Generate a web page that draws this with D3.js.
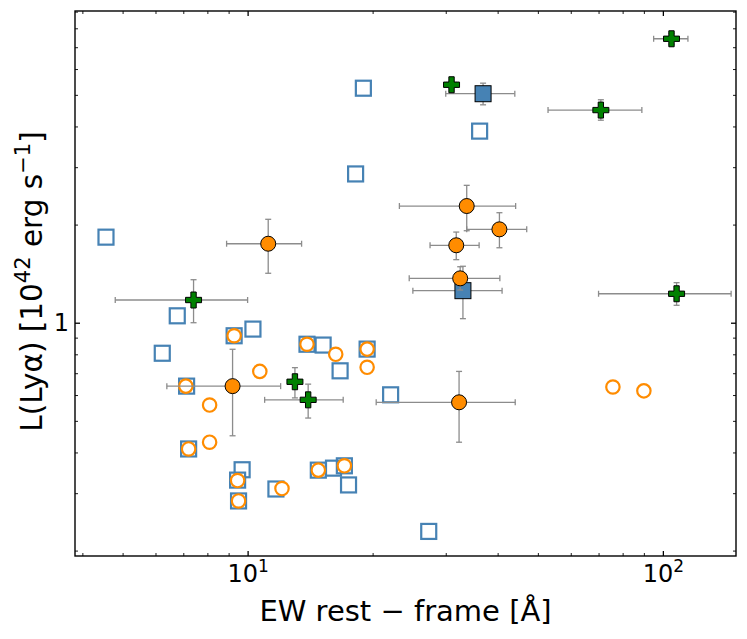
<!DOCTYPE html>
<html><head><meta charset="utf-8">
<script src="https://cdn.jsdelivr.net/npm/d3@7"></script>
<style>
body{margin:0;background:#fff}
svg{display:block}
text{font-family:"DejaVu Sans",sans-serif;fill:#000}
</style>
</head><body>
<svg id="c" width="747" height="639"></svg>
<script>
// ---- tick values ----
const xMajorTicks = [10, 100];
const xMinorTicks = [4, 5, 6, 7, 8, 9, 20, 30, 40, 50, 60, 70, 80, 90];
const yMajorTicks = [1];
const yMinorTicks = [0.2, 0.3, 0.4, 0.5, 0.6, 0.7, 0.8, 0.9, 2, 3, 4, 5, 6, 7, 8, 9];
const xTickLabels = [["10", "1"], ["10", "2"]];
const yTickLabels = ["1"];

// ---- open squares ----
const openSqEW = [4.56, 19.0, 18.2, 36.2, 6.77, 6.23, 9.28, 10.3, 7.13, 13.9, 15.2, 16.7, 19.4, 22.1, 7.21, 9.70, 9.46, 9.51, 11.7, 14.8, 16.1, 17.1, 17.5, 27.3];
const openSqL  = [1.83, 5.24, 2.86, 3.87, 1.05, 0.806, 0.912, 0.956, 0.639, 0.859, 0.854, 0.712, 0.830, 0.601, 0.410, 0.354, 0.329, 0.284, 0.309, 0.353, 0.358, 0.364, 0.318, 0.229];

// ---- open circles ----
const openCiEW = [9.28, 10.7, 7.10, 8.10, 8.10, 7.21, 13.9, 16.3, 19.4, 19.4, 9.46, 9.51, 12.1, 14.8, 17.1, 75.8, 90.0];
const openCiL  = [0.912, 0.709, 0.639, 0.559, 0.430, 0.410, 0.859, 0.800, 0.830, 0.730, 0.328, 0.284, 0.310, 0.353, 0.364, 0.635, 0.618];

// ---- filled squares (with errors) ----
const fillSqEW   = [36.9, 33.0];
const fillSqEWlo = [30.0, 25.0];
const fillSqEWhi = [44.0, 41.0];
const fillSqL    = [5.04, 1.254];
const fillSqLlo  = [4.66, 1.029];
const fillSqLhi  = [5.43, 1.49];

// ---- filled circles (with errors) ----
const fillCiEW   = [11.21, 9.20, 33.7, 40.4, 31.8, 32.5, 32.3];
const fillCiEWlo = [8.90, 6.39, 23.2, 33.7, 27.5, 24.5, 20.4];
const fillCiEWhi = [13.49, 12.01, 44.2, 47.0, 36.1, 40.5, 44.1];
const fillCiL    = [1.747, 0.639, 2.280, 1.934, 1.728, 1.368, 0.570];
const fillCiLlo  = [1.418, 0.450, 1.915, 1.698, 1.561, 1.26, 0.430];
const fillCiLhi  = [2.076, 0.829, 2.639, 2.175, 1.897, 1.485, 0.709];

// ---- green pluses (with errors) ----
const plusEW   = [104.9, 30.98, 70.9, 107.9, 7.41, 13.0, 13.99];
const plusEWlo = [95.0, 30.2, 52.9, 70.0, 4.80, 12.7, 10.99];
const plusEWhi = [114.9, 31.8, 89.0, 146.0, 10.0, 13.3, 16.99];
const plusL    = [7.43, 5.37, 4.49, 1.227, 1.174, 0.659, 0.580];
const plusLlo  = [7.15, 5.25, 4.18, 1.131, 1.0, 0.588, 0.510];
const plusLhi  = [7.72, 5.5, 4.83, 1.327, 1.355, 0.728, 0.648];

// ---- layout ----
const L = 75, R = 736, T = 11, B = 556;
const svg = d3.select("#c");
const x = d3.scaleLog().domain([3.84, 150]).range([L, R]);
const y = d3.scaleLog().domain([0.1925, 9.04]).range([B, T]);

const plot = svg.append("g");
const ERR = "#8c8c8c", CAP = 3;

function errorbars(ew, ewlo, ewhi, lv, llo, lhi) {
  const g = plot.append("g").attr("stroke", ERR).attr("stroke-width", 1.3).attr("fill", "none");
  ew.forEach((v, i) => {
    const cx = x(v), cy = y(lv[i]);
    const x0 = x(ewlo[i]), x1 = x(ewhi[i]);
    const y0 = y(llo[i]), y1 = y(lhi[i]);
    g.append("line").attr("x1", x0).attr("x2", x1).attr("y1", cy).attr("y2", cy);
    g.append("line").attr("x1", x0).attr("x2", x0).attr("y1", cy - CAP).attr("y2", cy + CAP);
    g.append("line").attr("x1", x1).attr("x2", x1).attr("y1", cy - CAP).attr("y2", cy + CAP);
    g.append("line").attr("x1", cx).attr("x2", cx).attr("y1", y0).attr("y2", y1);
    g.append("line").attr("x1", cx - CAP).attr("x2", cx + CAP).attr("y1", y0).attr("y2", y0);
    g.append("line").attr("x1", cx - CAP).attr("x2", cx + CAP).attr("y1", y1).attr("y2", y1);
  });
}

// open squares
plot.append("g").selectAll("rect").data(openSqEW).join("rect")
  .attr("x", (d, i) => x(d) - 7.5).attr("y", (d, i) => y(openSqL[i]) - 7.5)
  .attr("width", 15).attr("height", 15)
  .attr("fill", "none").attr("stroke", "#4682b4").attr("stroke-width", 2.2);

// open circles
plot.append("g").selectAll("circle").data(openCiEW).join("circle")
  .attr("cx", d => x(d)).attr("cy", (d, i) => y(openCiL[i])).attr("r", 6.7)
  .attr("fill", "#fff").attr("stroke", "#ff8c00").attr("stroke-width", 2.2);

// filled squares
errorbars(fillSqEW, fillSqEWlo, fillSqEWhi, fillSqL, fillSqLlo, fillSqLhi);
plot.append("g").selectAll("rect").data(fillSqEW).join("rect")
  .attr("x", d => x(d) - 8).attr("y", (d, i) => y(fillSqL[i]) - 8)
  .attr("width", 16).attr("height", 16)
  .attr("fill", "#4682b4").attr("stroke", "#000").attr("stroke-width", 1);

// filled circles
errorbars(fillCiEW, fillCiEWlo, fillCiEWhi, fillCiL, fillCiLlo, fillCiLhi);
plot.append("g").selectAll("circle").data(fillCiEW).join("circle")
  .attr("cx", d => x(d)).attr("cy", (d, i) => y(fillCiL[i])).attr("r", 7.5)
  .attr("fill", "#ff8c00").attr("stroke", "#000").attr("stroke-width", 1);

// pluses
errorbars(plusEW, plusEWlo, plusEWhi, plusL, plusLlo, plusLhi);
const s = 8 / 3;
const plusPath = `M${-s},${-3*s}H${s}V${-s}H${3*s}V${s}H${s}V${3*s}H${-s}V${s}H${-3*s}V${-s}H${-s}Z`;
plot.append("g").selectAll("path").data(plusEW).join("path")
  .attr("transform", (d, i) => `translate(${x(d)},${y(plusL[i])})`)
  .attr("d", plusPath)
  .attr("fill", "#008000").attr("stroke", "#000").attr("stroke-width", 1);

// ---- axes (ticks inward on all four sides) ----
function styleAxis(g, w) {
  g.select(".domain").remove();
  g.selectAll(".tick line").attr("stroke", "#000").attr("stroke-width", w);
}
const MAJ = 5, MIN = 3;
svg.append("g").attr("transform", `translate(0,${B})`)
  .call(d3.axisBottom(x).tickValues(xMinorTicks).tickSize(-MIN).tickFormat(""))
  .call(g => styleAxis(g, 0.9));
svg.append("g").attr("transform", `translate(0,${T})`)
  .call(d3.axisTop(x).tickValues(xMinorTicks).tickSize(-MIN).tickFormat(""))
  .call(g => styleAxis(g, 0.9));
svg.append("g").attr("transform", `translate(${L},0)`)
  .call(d3.axisLeft(y).tickValues(yMinorTicks).tickSize(-MIN).tickFormat(""))
  .call(g => styleAxis(g, 0.9));
svg.append("g").attr("transform", `translate(${R},0)`)
  .call(d3.axisRight(y).tickValues(yMinorTicks).tickSize(-MIN).tickFormat(""))
  .call(g => styleAxis(g, 0.9));

const xMaj = svg.append("g").attr("transform", `translate(0,${B})`)
  .call(d3.axisBottom(x).tickValues(xMajorTicks).tickSize(-MAJ).tickPadding(7).tickFormat(""))
  .call(g => styleAxis(g, 1.3));
xMaj.selectAll(".tick text").each(function(d, i) {
  const t = d3.select(this).attr("font-size", 24).attr("y", 26).attr("dy", 0).attr("fill", "#000");
  t.append("tspan").text(xTickLabels[i][0]);
  t.append("tspan").text(xTickLabels[i][1]).attr("font-size", 17).attr("dy", -10);
});
svg.append("g").attr("transform", `translate(0,${T})`)
  .call(d3.axisTop(x).tickValues(xMajorTicks).tickSize(-MAJ).tickFormat(""))
  .call(g => styleAxis(g, 1.3));
const yMaj = svg.append("g").attr("transform", `translate(${L},0)`)
  .call(d3.axisLeft(y).tickValues(yMajorTicks).tickSize(-MAJ).tickPadding(7).tickFormat((d, i) => yTickLabels[i]))
  .call(g => styleAxis(g, 1.3));
yMaj.selectAll(".tick text").attr("font-size", 24).attr("font-family", "DejaVu Sans").attr("fill", "#000").attr("x", -6);
svg.append("g").attr("transform", `translate(${R},0)`)
  .call(d3.axisRight(y).tickValues(yMajorTicks).tickSize(-MAJ).tickFormat(""))
  .call(g => styleAxis(g, 1.3));

// frame
svg.append("rect").attr("x", L).attr("y", T).attr("width", R - L).attr("height", B - T)
  .attr("fill", "none").attr("stroke", "#000").attr("stroke-width", 1.4);

// ---- axis labels ----
svg.append("text").attr("x", (L + R) / 2).attr("y", 621).attr("text-anchor", "middle")
  .attr("font-size", 29).text("EW rest \u2212 frame [\u00c5]");

const yl = svg.append("text").attr("transform", `translate(42,${(T + B) / 2 - 2}) rotate(-90)`)
  .attr("text-anchor", "middle").attr("font-size", 29.5);
yl.append("tspan").text("L(Ly\u03b1) [10");
yl.append("tspan").text("42").attr("font-size", 21).attr("dy", -12);
yl.append("tspan").text(" erg s").attr("dy", 12);
yl.append("tspan").text("\u22121").attr("font-size", 21).attr("dy", -12);
yl.append("tspan").text("]").attr("dy", 12);
</script>
</body></html>
